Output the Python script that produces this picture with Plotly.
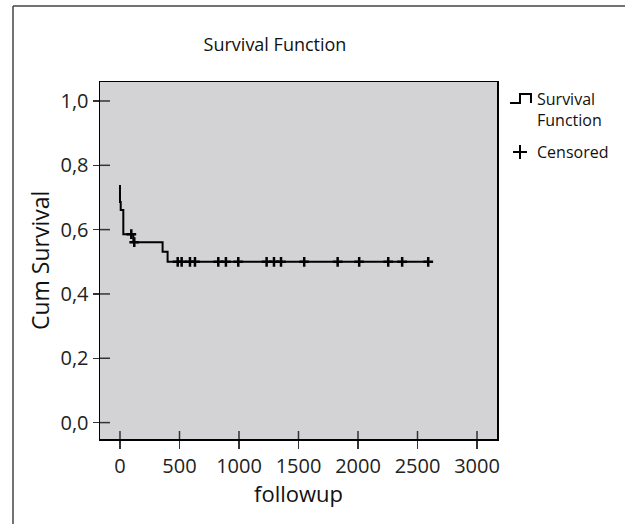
import plotly.graph_objects as go

# ---- data ----
step_time = [0, 0, 6, 28, 112, 358, 400, 2590]
step_surv = [0.739, 0.686, 0.661, 0.586, 0.561, 0.531, 0.5, 0.5]

cens_time = [95, 120, 485, 518, 588, 630, 826, 890, 994, 1232, 1294, 1353,
             1548, 1829, 2010, 2254, 2371, 2590]
cens_surv = [0.586, 0.561, 0.5, 0.5, 0.5, 0.5, 0.5, 0.5, 0.5, 0.5, 0.5, 0.5,
             0.5, 0.5, 0.5, 0.5, 0.5, 0.5]

x_ticks = [0, 500, 1000, 1500, 2000, 2500, 3000]
y_ticks = [0.0, 0.2, 0.4, 0.6, 0.8, 1.0]
y_labels = ["0,0", "0,2", "0,4", "0,6", "0,8", "1,0"]

FONT = "Open Sans"
W, H = 625, 524
# plot area in page coordinates: x 100..497, y 82..439
L, T = 100, 82
R = W - 497
B = H - 439
PW, PH = W - L - R, H - T - B


def px_x(p):
    return (p - L) / PW


def px_y(p):
    return (H - B - p) / PH


fig = go.Figure()
fig.add_trace(go.Scatter(x=step_time, y=step_surv, mode="lines",
                         line=dict(color="black", width=2, shape="hv"),
                         showlegend=False, hoverinfo="skip"))
fig.add_trace(go.Scatter(x=cens_time, y=cens_surv, mode="markers",
                         marker=dict(symbol="cross-thin", size=7,
                                     line=dict(color="black", width=2.5)),
                         showlegend=False))

shapes = []
tick_col = "#333333"
for v in x_ticks:
    shapes.append(dict(type="line", xref="x", yref="y domain", x0=v, x1=v,
                       y0=0, y1=8 / PH, line=dict(color=tick_col, width=1.5)))
for v in y_ticks:
    shapes.append(dict(type="line", xref="x domain", yref="y", x0=0, x1=10 / PW,
                       y0=v, y1=v, line=dict(color=tick_col, width=1.5)))

# outer frame (top and left edges only are visible)
shapes.append(dict(type="line", xref="paper", yref="paper",
                   x0=px_x(13), x1=px_x(W), y0=px_y(6), y1=px_y(6),
                   line=dict(color="#444444", width=1.5)))
shapes.append(dict(type="line", xref="paper", yref="paper",
                   x0=px_x(13), x1=px_x(13), y0=px_y(6), y1=px_y(524),
                   line=dict(color="#444444", width=1.5)))

# legend glyphs
step_path = "M {:.4f},{:.4f} L {:.4f},{:.4f} L {:.4f},{:.4f} L {:.4f},{:.4f} L {:.4f},{:.4f}".format(
    px_x(510), px_y(103), px_x(520), px_y(103), px_x(520), px_y(94),
    px_x(531), px_y(94), px_x(531), px_y(103))
shapes.append(dict(type="path", xref="paper", yref="paper", path=step_path,
                   line=dict(color="black", width=2)))
shapes.append(dict(type="line", xref="paper", yref="paper",
                   x0=px_x(513), x1=px_x(527), y0=px_y(152), y1=px_y(152),
                   line=dict(color="black", width=2)))
shapes.append(dict(type="line", xref="paper", yref="paper",
                   x0=px_x(520), x1=px_x(520), y0=px_y(145), y1=px_y(159),
                   line=dict(color="black", width=2)))

annotations = [
    dict(text="Survival<br>Function", xref="paper", yref="paper",
         x=px_x(535), y=px_y(86), xanchor="left", yanchor="top", align="left",
         showarrow=False, font=dict(family=FONT, size=16, color="#111111")),
    dict(text="Censored", xref="paper", yref="paper",
         x=px_x(535), y=px_y(152), xanchor="left", yanchor="middle", align="left",
         showarrow=False, font=dict(family=FONT, size=16, color="#111111")),
    dict(text="Cum Survival", xref="paper", yref="paper",
         x=px_x(40), y=px_y(260), xanchor="center", yanchor="middle",
         textangle=-90, showarrow=False,
         font=dict(family=FONT, size=23, color="#111111")),
    dict(text="followup", xref="paper", yref="paper",
         x=px_x(298), y=px_y(493), xanchor="center", yanchor="middle",
         showarrow=False, font=dict(family=FONT, size=22, color="#111111")),
]

fig.update_layout(
    width=W, height=H,
    margin=dict(l=L, r=R, t=T, b=B, pad=0),
    paper_bgcolor="white",
    plot_bgcolor="#d3d3d5",
    title=dict(text="Survival Function", x=275 / W, xanchor="center",
               y=1 - 45 / H, yanchor="middle",
               font=dict(family=FONT, size=18, color="#111111")),
    font=dict(family=FONT, size=20, color="#222222"),
    showlegend=False,
    dragmode=False,
    shapes=shapes,
    annotations=annotations,
    xaxis=dict(range=[-168, 3168], tickvals=x_ticks, ticks="outside", ticklen=8,
               tickwidth=1.5, tickcolor=tick_col, showgrid=False, zeroline=False,
               showline=True, linecolor="black", linewidth=1.5, mirror=True,
               tickfont=dict(family=FONT, size=20, color="#222222")),
    yaxis=dict(range=[-0.051, 1.059], tickvals=y_ticks, ticktext=y_labels,
               ticks="outside", ticklen=6, tickwidth=1.5, tickcolor=tick_col,
               showgrid=False, zeroline=False, showline=True, linecolor="black",
               linewidth=1.5, mirror=True,
               tickfont=dict(family=FONT, size=20, color="#222222")),
)

fig.write_html(
    "out.html", config={"displayModeBar": False, "staticPlot": True},
    post_script=("document.documentElement.style.overflow='hidden';"
                 "document.body.style.margin='0px';"
                 "document.body.style.overflow='hidden';"))
